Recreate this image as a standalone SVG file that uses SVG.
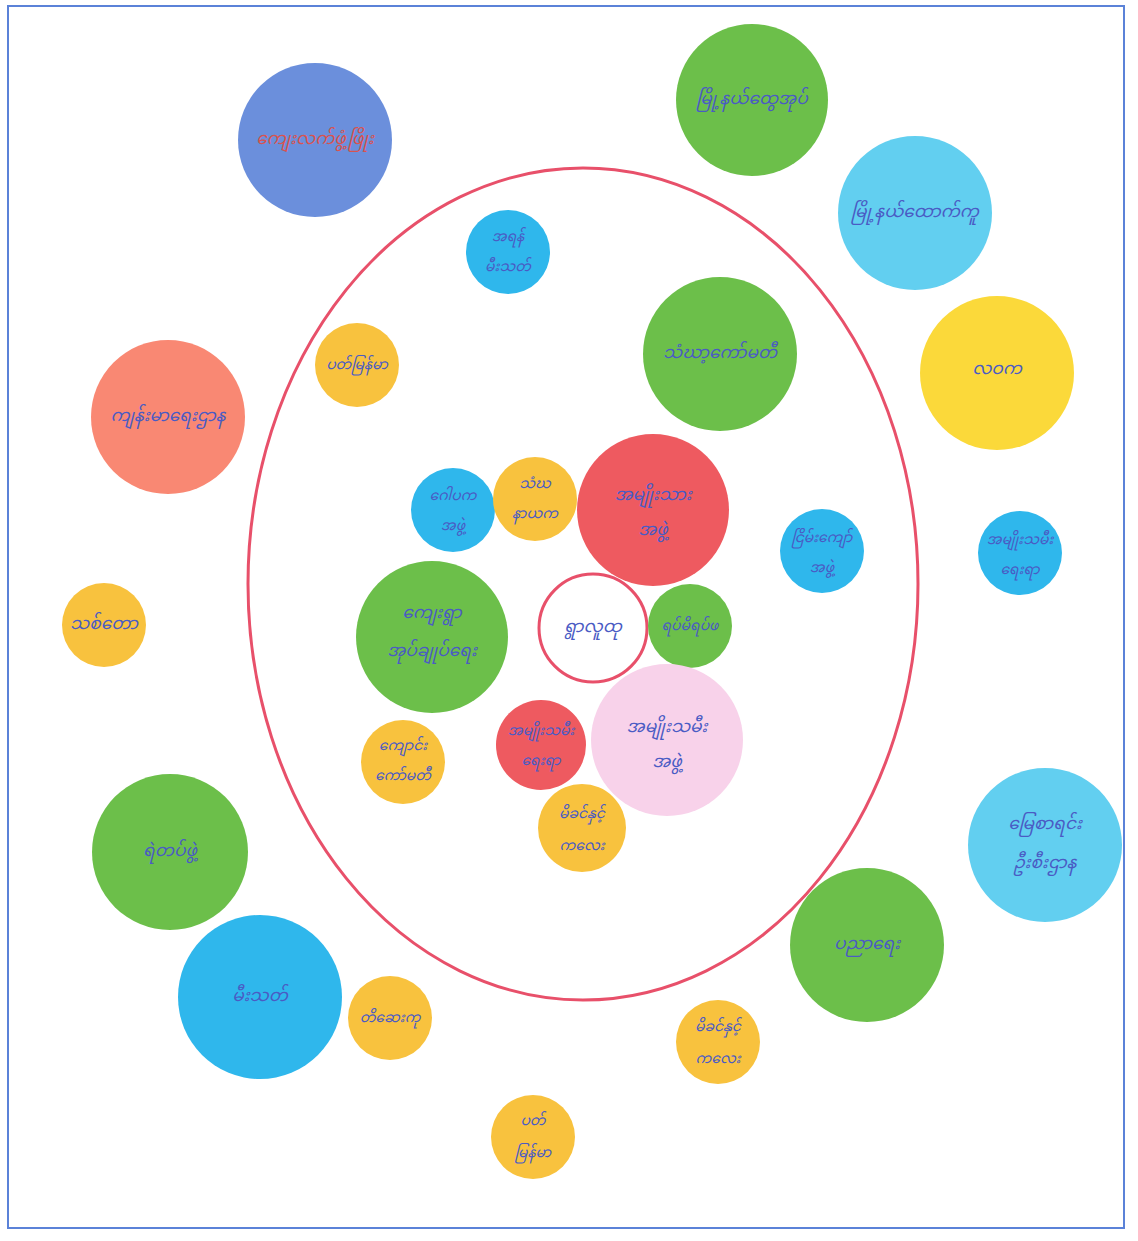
<svg xmlns="http://www.w3.org/2000/svg" width="1138" height="1241" viewBox="0 0 1138 1241">
<style>
text{font-family:"Noto Sans Myanmar","Myanmar Text","Padauk","Noto Sans",sans-serif;font-size:17px;fill:#4a5bc4;text-anchor:middle;dominant-baseline:central;font-style:italic}
.t{font-size:14px}
.g{fill:#6cbf4a}.b{fill:#2fb7ec}.lb{fill:#62cff0}.o{fill:#f8c23e}.y{fill:#fbd93a}.r{fill:#ee5a60}.s{fill:#f98873}.p{fill:#f8d2ea}.v{fill:#6b8fdc}
</style>
<rect x="8" y="6" width="1116" height="1222" fill="#ffffff" stroke="#5b82d8" stroke-width="2"/>
<g id="connectors">
<ellipse cx="583" cy="584" rx="335" ry="416" fill="none" stroke="#e8506a" stroke-width="3"/>
</g>
<g id="n1"><circle cx="315" cy="140" r="77" class="v"/><text x="315" y="140" style="fill:#d9534f">ကျေးလက်ဖွံ့ဖြိုး</text></g>
<g id="n2"><circle cx="752" cy="100" r="76" class="g"/><text x="752" y="100">မြို့နယ်ထွေအုပ်</text></g>
<g id="n3"><circle cx="915" cy="213" r="77" class="lb"/><text x="915" y="213">မြို့နယ်ထောက်ကူ</text></g>
<g id="n4"><circle cx="168" cy="417" r="77" class="s"/><text x="168" y="417">ကျန်းမာရေးဌာန</text></g>
<g id="n5"><circle cx="357" cy="365" r="42" class="o"/><text x="357" y="365" class="t">ပတ်မြန်မာ</text></g>
<g id="n6"><circle cx="508" cy="252" r="42" class="b"/><text x="508" y="237" class="t">အရန်</text><text x="508" y="267" class="t">မီးသတ်</text></g>
<g id="n7"><circle cx="720" cy="354" r="77" class="g"/><text x="720" y="354">သံဃာ့ကော်မတီ</text></g>
<g id="n8"><circle cx="997" cy="373" r="77" class="y"/><text x="997" y="370">လဝက</text></g>
<g id="n9"><circle cx="453" cy="510" r="42" class="b"/><text x="453" y="496" class="t">ဂေါပက</text><text x="453" y="526" class="t">အဖွဲ့</text></g>
<g id="n10"><circle cx="535" cy="499" r="42" class="o"/><text x="535" y="484" class="t">သံဃ</text><text x="535" y="514" class="t">နာယက</text></g>
<g id="n11"><circle cx="653" cy="510" r="76" class="r"/><text x="653" y="496">အမျိုးသား</text><text x="653" y="531">အဖွဲ့</text></g>
<g id="n12"><circle cx="822" cy="551" r="42" class="b"/><text x="822" y="538" class="t">ငြိမ်းကျော်</text><text x="822" y="568" class="t">အဖွဲ့</text></g>
<g id="n13"><circle cx="1020" cy="553" r="42" class="b"/><text x="1020" y="540" class="t">အမျိုးသမီး</text><text x="1020" y="570" class="t">ရေးရာ</text></g>
<g id="n14"><circle cx="104" cy="625" r="42" class="o"/><text x="104" y="625">သစ်တော</text></g>
<g id="n15"><circle cx="432" cy="637" r="76" class="g"/><text x="432" y="614">ကျေးရွာ</text><text x="432" y="652">အုပ်ချုပ်ရေး</text></g>
<g id="n16"><circle cx="593" cy="628" r="54" fill="#ffffff" stroke="#e8506a" stroke-width="3"/><text x="593" y="628">ရွာလူထု</text></g>
<g id="n17"><circle cx="690" cy="626" r="42" class="g"/><text x="690" y="626" class="t">ရပ်မိရပ်ဖ</text></g>
<g id="n18"><circle cx="667" cy="740" r="76" class="p"/><text x="667" y="728">အမျိုးသမီး</text><text x="667" y="763">အဖွဲ့</text></g>
<g id="n19"><circle cx="541" cy="745" r="45" class="r"/><text x="541" y="731" class="t">အမျိုးသမီး</text><text x="541" y="761" class="t">ရေးရာ</text></g>
<g id="n20"><circle cx="403" cy="762" r="42" class="o"/><text x="403" y="746" class="t">ကျောင်း</text><text x="403" y="776" class="t">ကော်မတီ</text></g>
<g id="n21"><circle cx="582" cy="828" r="44" class="o"/><text x="582" y="814" class="t">မိခင်နှင့်</text><text x="582" y="846" class="t">ကလေး</text></g>
<g id="n22"><circle cx="170" cy="852" r="78" class="g"/><text x="170" y="852">ရဲတပ်ဖွဲ့</text></g>
<g id="n23"><circle cx="260" cy="997" r="82" class="b"/><text x="260" y="997">မီးသတ်</text></g>
<g id="n24"><circle cx="390" cy="1018" r="42" class="o"/><text x="390" y="1018" class="t">တိဆေးကု</text></g>
<g id="n25"><circle cx="867" cy="945" r="77" class="g"/><text x="867" y="945">ပညာရေး</text></g>
<g id="n26"><circle cx="1045" cy="845" r="77" class="lb"/><text x="1045" y="825">မြေစာရင်း</text><text x="1045" y="864">ဦးစီးဌာန</text></g>
<g id="n27"><circle cx="718" cy="1042" r="42" class="o"/><text x="718" y="1027" class="t">မိခင်နှင့်</text><text x="718" y="1059" class="t">ကလေး</text></g>
<g id="n28"><circle cx="533" cy="1137" r="42" class="o"/><text x="533" y="1121" class="t">ပတ်</text><text x="533" y="1153" class="t">မြန်မာ</text></g>
</svg>
